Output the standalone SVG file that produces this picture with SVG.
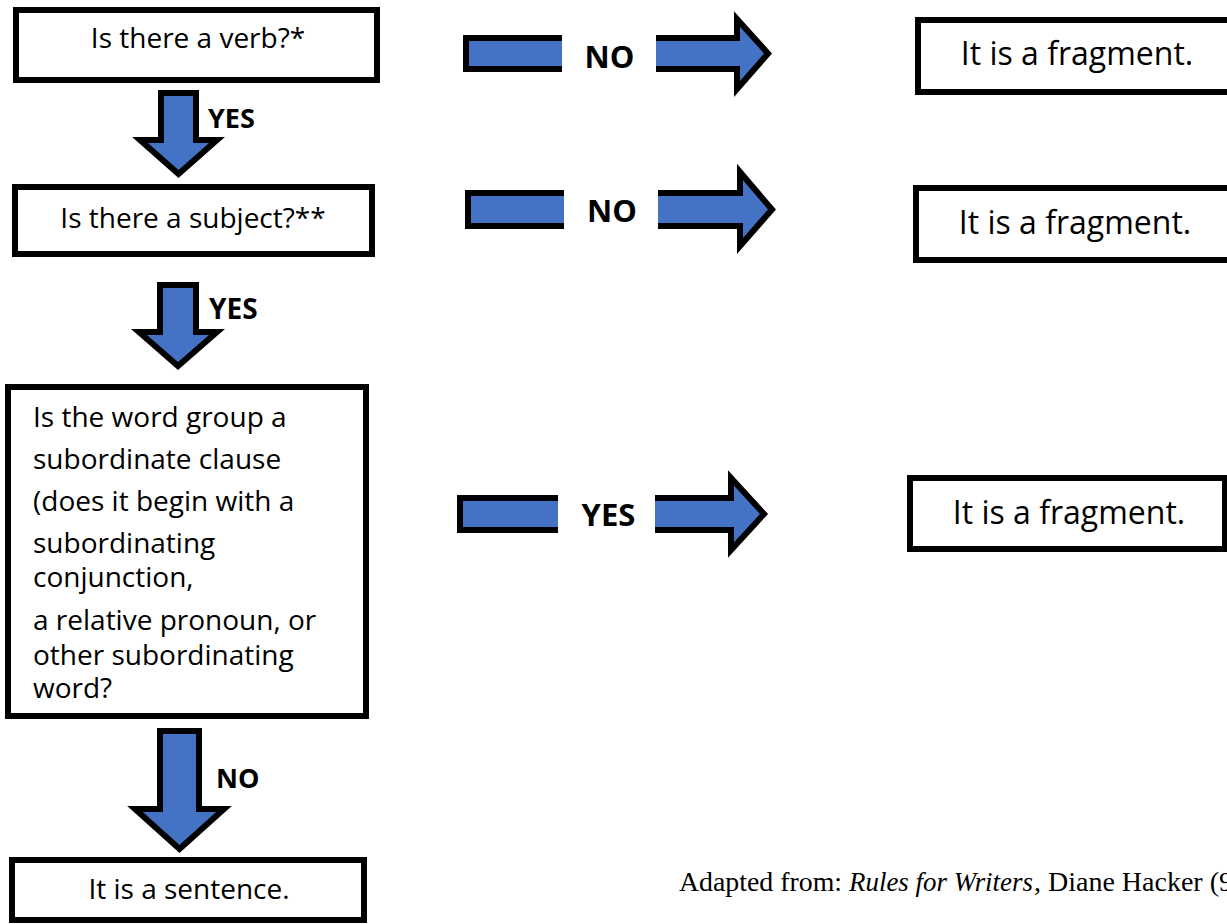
<svg xmlns="http://www.w3.org/2000/svg" width="1227" height="924" viewBox="0 0 1227 924">
<style>
.box{fill:#fff;stroke:#000;stroke-width:6}
.arrow{fill:#4472C4;stroke:#000;stroke-width:6;stroke-linejoin:miter}
.gap{fill:#fff}
.t{font-family:"Open Sans","Noto Sans",sans-serif;font-size:28px;fill:#000}
.tm{text-anchor:middle}
.big{font-size:32px}
.lbl{font-family:"Open Sans","Noto Sans",sans-serif;font-weight:bold;fill:#000}
.foot{font-family:"Liberation Serif","DejaVu Serif",serif;font-size:27px;fill:#000}
</style>
<rect width="1227" height="924" fill="#fff"/>

<g id="connectors">
  <g id="arrow-verb-yes">
    <polygon class="arrow" points="161,93 196,93 196,140 217,140 178.5,174 140,140 161,140"/>
    <text class="lbl" x="208" y="128" font-size="27">YES</text>
  </g>
  <g id="arrow-subject-yes">
    <polygon class="arrow" points="160,285 196,285 196,332 217,332 178,366 139,332 160,332"/>
    <text class="lbl" x="209" y="319" font-size="28">YES</text>
  </g>
  <g id="arrow-clause-no">
    <polygon class="arrow" points="160,731 199,731 199,809 224,809 179.5,849 135,809 160,809"/>
    <text class="lbl" x="216" y="788" font-size="27">NO</text>
  </g>
  <g id="arrow-verb-no">
    <polygon class="arrow" points="466,38 737,38 737,19 768,53.5 737,89 737,69 466,69"/>
    <rect class="gap" x="562" y="28" width="94" height="52"/>
    <text class="lbl" x="609.5" y="68" font-size="31" text-anchor="middle">NO</text>
  </g>
  <g id="arrow-subject-no">
    <polygon class="arrow" points="468,193 740,193 740,172 772,209.5 740,246 740,226 468,226"/>
    <rect class="gap" x="564" y="183" width="94" height="52"/>
    <text class="lbl" x="612" y="222" font-size="31" text-anchor="middle">NO</text>
  </g>
  <g id="arrow-clause-yes">
    <polygon class="arrow" points="460,498 731,498 731,478 764,514 731,550 731,530 460,530"/>
    <rect class="gap" x="558" y="488" width="97" height="52"/>
    <text class="lbl" x="608.5" y="526" font-size="31" text-anchor="middle">YES</text>
  </g>
</g>

<g id="node-verb">
  <rect class="box" x="16" y="10" width="361" height="70"/>
  <text class="t tm" x="198" y="48">Is there a verb?*</text>
</g>
<g id="node-subject">
  <rect class="box" x="15" y="187" width="357" height="67"/>
  <text class="t tm" x="193" y="228">Is there a subject?**</text>
</g>
<g id="node-clause">
  <rect class="box" x="8" y="387" width="358" height="329"/>
  <text class="t" x="33" y="427">Is the word group a</text>
  <text class="t" x="33" y="469">subordinate clause</text>
  <text class="t" x="33" y="511">(does it begin with a</text>
  <text class="t" x="33" y="553">subordinating</text>
  <text class="t" x="33" y="587">conjunction,</text>
  <text class="t" x="33" y="630">a relative pronoun, or</text>
  <text class="t" x="33" y="665">other subordinating</text>
  <text class="t" x="33" y="698">word?</text>
</g>
<g id="node-sentence">
  <rect class="box" x="12" y="860" width="352" height="60"/>
  <text class="t tm" x="189" y="899">It is a sentence.</text>
</g>
<g id="node-fragment-1">
  <rect class="box" x="918" y="20" width="330" height="72"/>
  <text class="t tm big" x="1077" y="65">It is a fragment.</text>
</g>
<g id="node-fragment-2">
  <rect class="box" x="916" y="188" width="330" height="72"/>
  <text class="t tm big" x="1075" y="234">It is a fragment.</text>
</g>
<g id="node-fragment-3">
  <rect class="box" x="910" y="478" width="315" height="71"/>
  <text class="t tm big" x="1069" y="524">It is a fragment.</text>
</g>

<g id="footer">
  <text class="foot" x="679" y="891" textLength="163" lengthAdjust="spacingAndGlyphs">Adapted from:</text>
  <text class="foot" x="849" y="891" font-style="italic" textLength="184" lengthAdjust="spacingAndGlyphs">Rules for Writers</text>
  <text class="foot" x="1034" y="891" textLength="199" lengthAdjust="spacingAndGlyphs">, Diane Hacker (9</text>
</g>
</svg>
